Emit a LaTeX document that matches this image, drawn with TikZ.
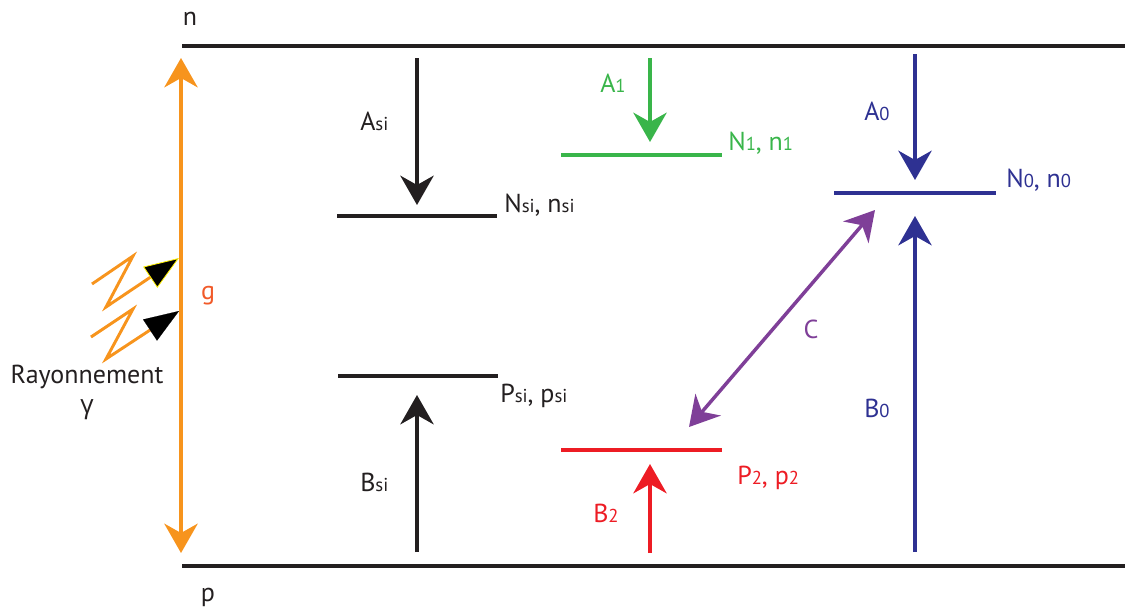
\documentclass[tikz,border=0pt]{standalone}
\usepackage{fontspec}
\setmainfont{PT Sans}
\newfontfamily\grkfont{Open Sans}
\usetikzlibrary{arrows.meta}
\definecolor{ink}{HTML}{231F20}
\definecolor{grn}{HTML}{39B54A}
\definecolor{rd}{HTML}{ED1C24}
\definecolor{bl}{HTML}{2E3192}
\definecolor{pur}{HTML}{7F3F98}
\definecolor{org}{HTML}{F7941D}
\definecolor{gcol}{HTML}{F15A29}
\newcommand{\smallsub}[1]{{\fontsize{14}{14}\selectfont #1}}
\tikzset{
  lbl/.style={font=\fontsize{19.5}{22}\selectfont, inner sep=0pt},
  lev/.style={line width=2.6pt},
  rail/.style={line width=3pt, draw=ink},
  arr/.style={line width=2.6pt, -{Stealth[length=22pt,width=25pt,inset=7pt]}},
  darr/.style={line width=2.6pt, {Stealth[length=22pt,width=25pt,inset=7pt]}-{Stealth[length=22pt,width=25pt,inset=7pt]}},
  zig/.style={line width=2.2pt, draw=org, line join=miter}
}
\begin{document}
\begin{tikzpicture}[x=0.75pt,y=-0.75pt]
\useasboundingbox (0,0) rectangle (1125,612);
% rails
\coordinate (nL) at (182,46); \coordinate (nR) at (1125,46);
\coordinate (pL) at (182,566); \coordinate (pR) at (1125,566);
\draw[rail] (nL) -- (nR);
\draw[rail] (pL) -- (pR);
\node[lbl, text=ink] (nlab) at (190,19) {n};
\node[lbl, text=ink] (plab) at (208,597) {p};
% orange g arrow
\coordinate (gT) at (181,58); \coordinate (gB) at (181,553);
\draw[darr, draw=org] (gB) -- (gT);
\node[lbl, text=gcol] (glab) at (208,296) {g};
% zigzags
\coordinate (z1a) at (92,284); \coordinate (z1b) at (133,256); \coordinate (z1c) at (106,307); \coordinate (z1d) at (179,258);
\draw[zig, -{Triangle[length=26pt,width=19pt,fill=black,color=yellow,line width=0.6pt]}] (z1a) -- (z1b) -- (z1c) -- (z1d);
\coordinate (z2a) at (91,337); \coordinate (z2b) at (133,309); \coordinate (z2c) at (106,359); \coordinate (z2d) at (179,311);
\draw[zig, -{Triangle[length=26pt,width=19pt,fill=black,color=black,line width=0.1pt]}] (z2a) -- (z2b) -- (z2c) -- (z2d);
\node[lbl, text=ink] (ray) at (87,377) {Rayonnement};
\node[lbl, text=ink] (gam) at (87,410) {\grkfont γ};
% black Nsi
\coordinate (NsiL) at (337,216); \coordinate (NsiR) at (497,216);
\draw[lev, draw=ink] (NsiL) -- (NsiR);
\coordinate (AsiT) at (417,58); \coordinate (AsiB) at (417,205);
\draw[arr, draw=ink] (AsiT) -- (AsiB);
\node[lbl, text=ink, anchor=west] (Asil) at (360,121) {A\smallsub{si}};
\node[lbl, text=ink, anchor=west] (Nsil) at (504,205) {N\smallsub{si}, n\smallsub{si}};
% black Psi
\coordinate (PsiL) at (338,376); \coordinate (PsiR) at (498,376);
\draw[lev, draw=ink] (PsiL) -- (PsiR);
\coordinate (BsiB) at (417,552); \coordinate (BsiT) at (417,395);
\draw[arr, draw=ink] (BsiB) -- (BsiT);
\node[lbl, text=ink, anchor=west] (Bsil) at (360,482) {B\smallsub{si}};
\node[lbl, text=ink, anchor=west] (Psil) at (500,396) {P\smallsub{si}, p\smallsub{si}};
% green
\coordinate (N1L) at (561,155); \coordinate (N1R) at (722,155);
\draw[lev, draw=grn] (N1L) -- (N1R);
\coordinate (A1T) at (650,58); \coordinate (A1B) at (650,142);
\draw[arr, draw=grn] (A1T) -- (A1B);
\node[lbl, text=grn, anchor=west] (A1l) at (600,83) {A\smallsub{1}};
\node[lbl, text=grn, anchor=west] (N1l) at (728,143) {N\smallsub{1}, n\smallsub{1}};
% red
\coordinate (P2L) at (561,450); \coordinate (P2R) at (722,450);
\draw[lev, draw=rd] (P2L) -- (P2R);
\coordinate (B2B) at (650,553); \coordinate (B2T) at (650,464);
\draw[arr, draw=rd] (B2B) -- (B2T);
\node[lbl, text=rd, anchor=west] (B2l) at (593,513) {B\smallsub{2}};
\node[lbl, text=rd, anchor=west] (P2l) at (737,478) {P\smallsub{2}, p\smallsub{2}};
% blue
\coordinate (N0L) at (834,193); \coordinate (N0R) at (996,193);
\draw[lev, draw=bl] (N0L) -- (N0R);
\coordinate (A0T) at (915,54); \coordinate (A0B) at (915,180);
\draw[arr, draw=bl] (A0T) -- (A0B);
\coordinate (B0B) at (915,552); \coordinate (B0T) at (915,216);
\draw[arr, draw=bl] (B0B) -- (B0T);
\node[lbl, text=bl, anchor=west] (A0l) at (864,111) {A\smallsub{0}};
\node[lbl, text=bl, anchor=west] (N0l) at (1006,180) {N\smallsub{0}, n\smallsub{0}};
\node[lbl, text=bl, anchor=west] (B0l) at (864,408) {B\smallsub{0}};
% purple
\coordinate (Cb) at (689,427); \coordinate (Ct) at (875,210);
\draw[darr, draw=pur] (Cb) -- (Ct);
\node[lbl, text=pur] (Cl) at (811,329) {C};
\end{tikzpicture}
\end{document}
